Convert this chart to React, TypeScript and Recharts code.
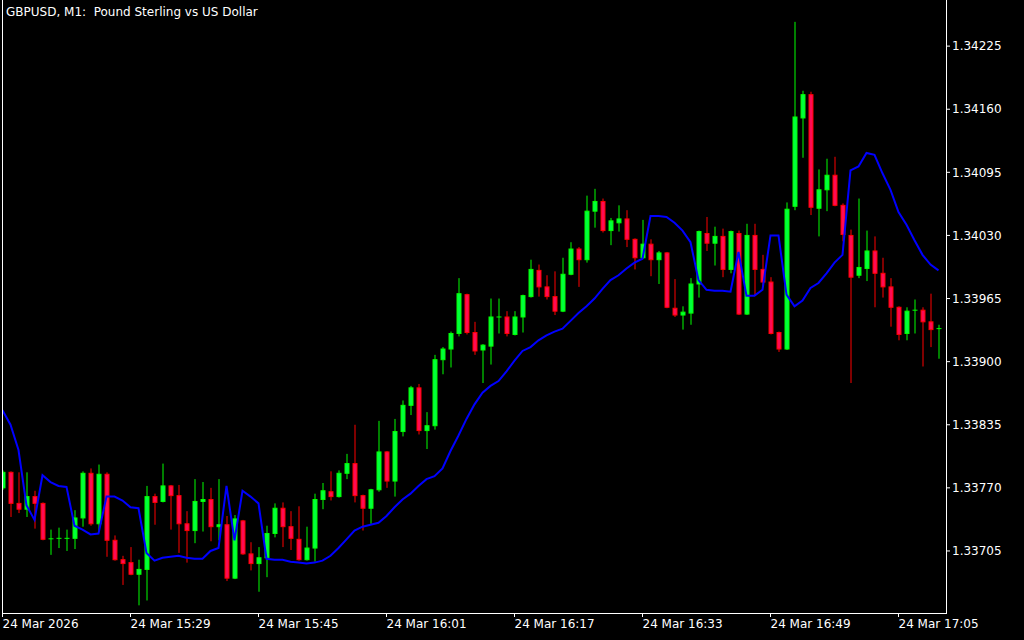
import { ComposedChart, Bar, Line, XAxis, YAxis } from "recharts";

// GBPUSD M1 candles, 15:13 .. 17:10
const opens = [
  1.3377, 1.33786, 1.33754, 1.33748, 1.33761, 1.33754, 1.33717, 1.33718, 1.33718, 1.33718,
  1.33739, 1.33785, 1.33733, 1.33784, 1.33716, 1.33696, 1.33693, 1.33681, 1.33686, 1.33761,
  1.33756, 1.33772, 1.33762, 1.33733, 1.33726, 1.33756, 1.33758, 1.3373, 1.33732, 1.33677,
  1.33736, 1.33702, 1.33692, 1.33698, 1.33723, 1.33749, 1.3373, 1.33717, 1.33696, 1.33708,
  1.33758, 1.33766, 1.33761, 1.33785, 1.33795, 1.33762, 1.33749, 1.33768, 1.33807, 1.33777,
  1.33828, 1.33855, 1.33873, 1.33829, 1.33834, 1.33902, 1.33913, 1.33929, 1.33969, 1.3393,
  1.33912, 1.33916, 1.33946, 1.33946, 1.33928, 1.33946, 1.33967, 1.33994, 1.33977, 1.33967,
  1.33952, 1.3399, 1.34016, 1.34005, 1.34055, 1.34065, 1.34035, 1.34043, 1.34047, 1.34026,
  1.34007, 1.34021, 1.34005, 1.34012, 1.33955, 1.33948, 1.3395, 1.3398, 1.34032, 1.34022,
  1.34029, 1.33995, 1.34032, 1.33949, 1.3403, 1.33995, 1.33982, 1.3393, 1.33913, 1.3406,
  1.34151, 1.34175, 1.34058, 1.34077, 1.34092, 1.34061, 1.3403, 1.33989, 1.33996, 1.34014,
  1.33991, 1.33977, 1.33956, 1.33929, 1.33953, 1.33953, 1.33941, 1.33934,
];
const highs = [
  1.33788, 1.33787, 1.33786, 1.33786, 1.33767, 1.33755, 1.33727, 1.33729, 1.33727, 1.33747,
  1.33787, 1.3379, 1.33794, 1.33786, 1.33721, 1.337, 1.33709, 1.33696, 1.33772, 1.33764,
  1.33795, 1.33773, 1.33773, 1.33746, 1.33779, 1.33776, 1.3377, 1.33779, 1.33741, 1.33742,
  1.33737, 1.33714, 1.33709, 1.33731, 1.33754, 1.33755, 1.33746, 1.33751, 1.3373, 1.33764,
  1.33775, 1.33787, 1.33788, 1.33805, 1.33835, 1.33763, 1.33769, 1.33839, 1.33808, 1.33841,
  1.3386, 1.33875, 1.33877, 1.33848, 1.33907, 1.33915, 1.33931, 1.33986, 1.3397, 1.33941,
  1.33918, 1.33965, 1.33965, 1.33952, 1.33952, 1.33969, 1.34005, 1.34, 1.33989, 1.33993,
  1.34007, 1.34023, 1.34018, 1.34071, 1.34078, 1.34068, 1.34048, 1.34061, 1.34056, 1.34027,
  1.34046, 1.34026, 1.34014, 1.34013, 1.33985, 1.33957, 1.33986, 1.34035, 1.34049, 1.34039,
  1.34037, 1.34035, 1.34035, 1.34042, 1.34042, 1.3401, 1.33987, 1.33931, 1.34064, 1.3425,
  1.34179, 1.34178, 1.34098, 1.34109, 1.34111, 1.34063, 1.34036, 1.34068, 1.34035, 1.34029,
  1.34007, 1.33986, 1.33957, 1.33956, 1.33964, 1.33956, 1.3397, 1.33938,
];
const lows = [
  1.33768, 1.3374, 1.33744, 1.3374, 1.33728, 1.33716, 1.33701, 1.33708, 1.33705, 1.33707,
  1.3373, 1.33731, 1.33726, 1.33699, 1.33695, 1.3367, 1.3368, 1.33649, 1.33654, 1.33732,
  1.33755, 1.33727, 1.33703, 1.33693, 1.33713, 1.33725, 1.33715, 1.33716, 1.33674, 1.33676,
  1.33701, 1.33685, 1.33663, 1.33678, 1.33719, 1.33709, 1.33706, 1.33695, 1.33695, 1.33694,
  1.33748, 1.33757, 1.3376, 1.33779, 1.33755, 1.33726, 1.33733, 1.33766, 1.3377, 1.33761,
  1.33823, 1.33845, 1.33825, 1.3381, 1.3383, 1.33887, 1.33894, 1.33926, 1.33928, 1.33907,
  1.33878, 1.33897, 1.33929, 1.33926, 1.33927, 1.3393, 1.33966, 1.33967, 1.33964, 1.33948,
  1.33951, 1.33989, 1.33977, 1.34002, 1.34038, 1.34033, 1.3402, 1.34034, 1.34018, 1.33995,
  1.34006, 1.33988, 1.3398, 1.33955, 1.33946, 1.33933, 1.33938, 1.33966, 1.34014, 1.33999,
  1.33987, 1.33991, 1.33948, 1.33948, 1.33968, 1.33977, 1.33928, 1.3391, 1.33912, 1.34056,
  1.3411, 1.34051, 1.34029, 1.34055, 1.3406, 1.34024, 1.33878, 1.33986, 1.33983, 1.33956,
  1.33966, 1.33936, 1.33922, 1.33922, 1.33929, 1.33895, 1.33915, 1.33903,
];
const closes = [
  1.33786, 1.33754, 1.33748, 1.33761, 1.33754, 1.33717, 1.33718, 1.33718, 1.33718, 1.33739,
  1.33785, 1.33733, 1.33784, 1.33716, 1.33696, 1.33692, 1.33681, 1.33686, 1.33761, 1.33755,
  1.33772, 1.33762, 1.33733, 1.33726, 1.33756, 1.33758, 1.3373, 1.33732, 1.33677, 1.33738,
  1.33702, 1.33692, 1.33698, 1.33723, 1.33749, 1.3373, 1.33718, 1.33696, 1.33708, 1.33758,
  1.33767, 1.33761, 1.33785, 1.33795, 1.33762, 1.33749, 1.33768, 1.33807, 1.33777, 1.33828,
  1.33855, 1.33873, 1.33829, 1.33834, 1.33902, 1.33913, 1.33929, 1.3397, 1.3393, 1.33911,
  1.33917, 1.33946, 1.33946, 1.33929, 1.33946, 1.33968, 1.33995, 1.33977, 1.33967, 1.33952,
  1.3399, 1.34016, 1.34005, 1.34055, 1.34065, 1.34035, 1.34045, 1.34047, 1.34026, 1.34007,
  1.34021, 1.34005, 1.34012, 1.33956, 1.33948, 1.33951, 1.3398, 1.34034, 1.34022, 1.34029,
  1.33995, 1.34034, 1.33949, 1.3403, 1.33995, 1.33982, 1.33929, 1.33913, 1.34057, 1.34152,
  1.34175, 1.34059, 1.34077, 1.34092, 1.34061, 1.34031, 1.33987, 1.33997, 1.34014, 1.33991,
  1.33977, 1.33956, 1.33928, 1.33952, 1.33953, 1.33941, 1.33933, 1.33934,
];
// blue moving-average line
const maLine = [
  1.3385, 1.33835, 1.33809, 1.33752, 1.33737, 1.33783, 1.33776, 1.33772, 1.33771, 1.33731,
  1.33727, 1.33722, 1.33723, 1.33761, 1.33761, 1.33757, 1.3375, 1.33749, 1.33703, 1.33695,
  1.33698, 1.33699, 1.337, 1.33698, 1.33697, 1.33697, 1.33705, 1.33708, 1.33772, 1.33716,
  1.33767, 1.33761, 1.33754, 1.33697, 1.33696, 1.33696, 1.33694, 1.33693, 1.33692, 1.33693,
  1.33695, 1.337, 1.33708, 1.33717, 1.33726, 1.3373, 1.33732, 1.33734, 1.33741, 1.3375,
  1.33758, 1.33764, 1.33772, 1.33779, 1.33782, 1.3379, 1.33808, 1.33824, 1.33841, 1.33856,
  1.33868, 1.33875, 1.3388, 1.3389, 1.33901, 1.33911, 1.33915, 1.33922, 1.33927, 1.33931,
  1.33934, 1.33942, 1.3395, 1.33957, 1.33965, 1.33975, 1.33984, 1.33989, 1.33996, 1.34002,
  1.34006, 1.3405, 1.3405, 1.34049, 1.34043, 1.34035, 1.34023, 1.33984, 1.33974, 1.33973,
  1.33973, 1.33972, 1.34013, 1.33968, 1.33968, 1.33974, 1.3403, 1.3403, 1.33969, 1.33957,
  1.33963, 1.33976, 1.33981, 1.33991, 1.34002, 1.3401, 1.34097, 1.34101, 1.34115, 1.34113,
  1.34094, 1.34077, 1.34054, 1.34041, 1.34025, 1.3401, 1.34, 1.33994,
];

const priceTicks = [1.33705, 1.3377, 1.33835, 1.339, 1.33965, 1.3403, 1.34095, 1.3416, 1.34225];
const tickTimes = ["15:13", "15:29", "15:45", "16:01", "16:17", "16:33", "16:49", "17:05"];
const tickLabels = [
  "24 Mar 2026", "24 Mar 15:29", "24 Mar 15:45", "24 Mar 16:01",
  "24 Mar 16:17", "24 Mar 16:33", "24 Mar 16:49", "24 Mar 17:05",
];

const FONT = "DejaVu Sans";
const UP = "#00ff3c";
const DOWN = "#ff0a54";

const firstMinute = 15 * 60 + 13;
const rows = opens.map((open, i) => {
  const m = firstMinute + i;
  return {
    time: `${Math.floor(m / 60)}:${String(m % 60).padStart(2, "0")}`,
    open,
    high: highs[i],
    low: lows[i],
    close: closes[i],
    range: [lows[i], highs[i]],
    ma: maLine[i],
  };
});

const Candle = (props: any) => {
  const { x, y, width, height, payload } = props;
  if (payload == null || !isFinite(y)) return null;
  const { open, close, high, low } = payload;
  const up = close >= open;
  const ratio = high > low ? height / (high - low) : 0;
  const cx = x + width / 2;
  const top = y + (high - Math.max(open, close)) * ratio;
  const bot = y + (high - Math.min(open, close)) * ratio;
  const fill = up ? UP : DOWN;
  const edge = up ? "#00ff00" : "#ff0000";
  return (
    <g>
      <line x1={cx} x2={cx} y1={y} y2={y + height} stroke={edge} strokeWidth={1} />
      {bot - top < 1.5 ? (
        <line x1={cx - 2.5} x2={cx + 2.5} y1={(top + bot) / 2} y2={(top + bot) / 2} stroke={edge} strokeWidth={1} />
      ) : (
        <rect x={cx - 2} y={top} width={4} height={bot - top} fill={fill} stroke={edge} strokeWidth={1} />
      )}
    </g>
  );
};

const TimeTick = ({ x, y, payload }: any) => {
  const i = tickTimes.indexOf(payload.value);
  return (
    <text x={x} y={y} dy="0.71em" textAnchor="start" fill="#ffffff" fontSize={12} fontFamily={FONT}>
      {tickLabels[i]}
    </text>
  );
};

export default function App() {
  return (
    <div style={{ position: "fixed", left: 0, top: 0, width: 1024, height: 640, background: "#000", overflow: "hidden" }}>
      <ComposedChart width={1024} height={640} data={rows} margin={{ top: 0, right: 0, bottom: 0, left: -1.5 }}>
        <XAxis
          dataKey="time"
          ticks={tickTimes}
          interval={0}
          height={27}
          padding={{ left: 0, right: 3.5 }}
          axisLine={false}
          tickLine={{ stroke: "#ffffff" }}
          tickSize={4}
          tickMargin={2}
          tick={<TimeTick />}
        />
        <YAxis
          orientation="right"
          width={78}
          domain={[1.336411, 1.342725]}
          allowDataOverflow
          ticks={priceTicks}
          interval={0}
          axisLine={false}
          tickLine={{ stroke: "#ffffff" }}
          tickSize={4}
          tickMargin={2}
          tick={{ fill: "#ffffff", fontSize: 12, fontFamily: FONT }}
          tickFormatter={(v: number) => v.toFixed(5)}
        />
        <Bar dataKey="range" barSize={5} shape={<Candle />} isAnimationActive={false} />
        <Line
          type="linear"
          dataKey="ma"
          stroke="#0000ff"
          strokeWidth={2}
          dot={false}
          activeDot={false}
          isAnimationActive={false}
        />
      </ComposedChart>
      <div style={{ position: "absolute", left: 0, top: 0, width: 2, height: 613, background: "#000" }} />
      <div
        style={{
          position: "absolute",
          left: 2,
          top: -1,
          width: 945,
          height: 615,
          boxSizing: "border-box",
          borderLeft: "1px solid #fff",
          borderRight: "1px solid #fff",
          borderBottom: "1px solid #fff",
          pointerEvents: "none",
        }}
      />
      <div
        style={{
          position: "absolute",
          left: 6,
          top: 5,
          color: "#fff",
          fontFamily: FONT,
          fontSize: 12,
          whiteSpace: "pre",
          lineHeight: "normal",
        }}
      >
        {"GBPUSD, M1:  Pound Sterling vs US Dollar"}
      </div>
    </div>
  );
}
